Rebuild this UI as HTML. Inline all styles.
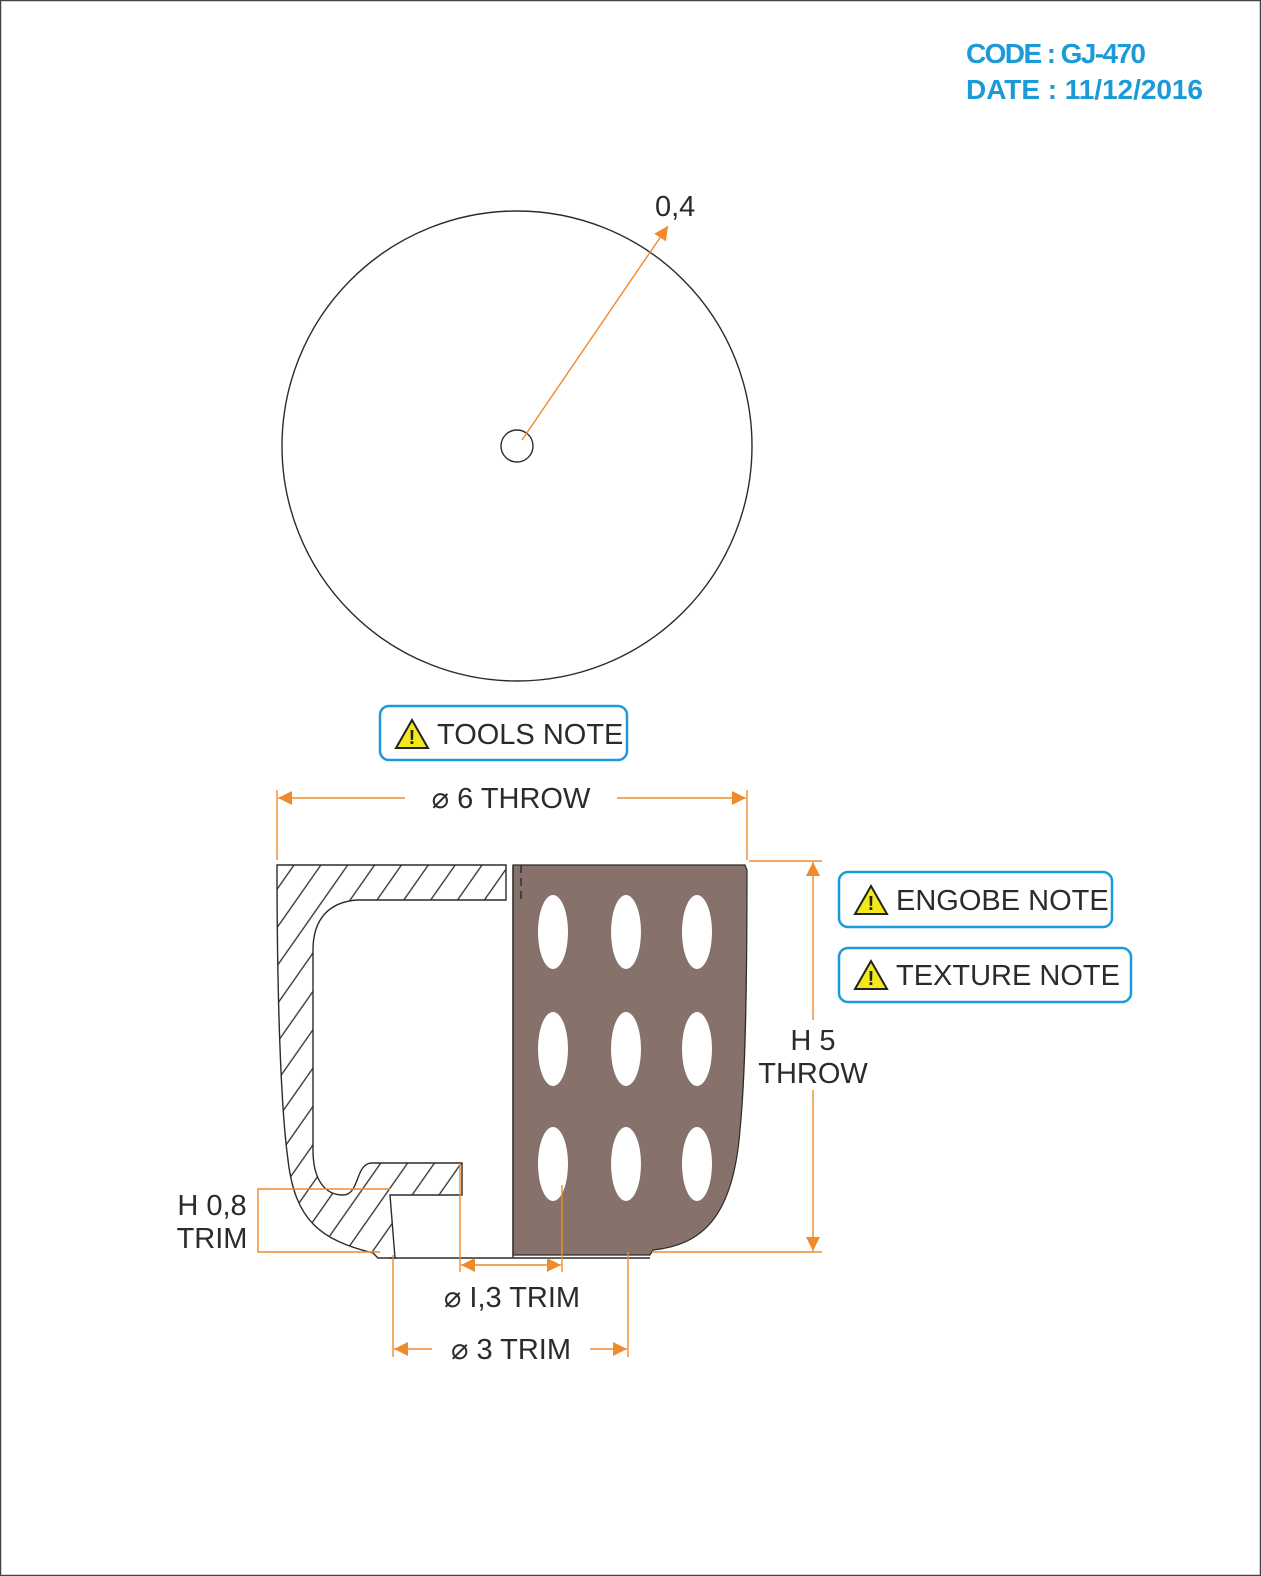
<!DOCTYPE html>
<html><head><meta charset="utf-8"><style>
html,body{margin:0;padding:0;background:#fff}
svg{display:block}
.t{font-family:"Liberation Sans",sans-serif;font-size:29px;fill:#2b2b2b}
.o{stroke:#f08a2c;stroke-width:1.4;fill:none}
.k{stroke:#2b2b2b;stroke-width:1.4;fill:none}
.nb{fill:#fff;stroke:#1a9ad6;stroke-width:2.5}
</style></head><body>
<svg id="svg" width="1261" height="1576" viewBox="0 0 1261 1576" xmlns="http://www.w3.org/2000/svg">
<defs>
<marker id="ar" viewBox="0 0 10 10" refX="10" refY="5" markerWidth="14" markerHeight="14" markerUnits="userSpaceOnUse" orient="auto-start-reverse"><path d="M0,0 L10,5 L0,10 z" fill="#f08a2c"/></marker>
<pattern id="hatch" patternUnits="userSpaceOnUse" width="22" height="22" patternTransform="rotate(35)"><line x1="11" y1="0" x2="11" y2="22" stroke="#2b2b2b" stroke-width="1.3"/></pattern>
</defs>
<rect x="0.5" y="0.5" width="1260" height="1575" fill="none" stroke="#444" stroke-width="1.5"/>
<g font-family="Liberation Sans, sans-serif" font-weight="bold" font-size="28" fill="#1a9ad6">
<text x="966" y="63" textLength="180">CODE : GJ-470</text>
<text x="966" y="99" textLength="237">DATE : 11/12/2016</text>
</g>
<circle cx="517" cy="446" r="235" class="k"/>
<circle cx="517" cy="446" r="16" class="k"/>
<line x1="522" y1="440" x2="668" y2="226" class="o" marker-end="url(#ar)"/>
<text class="t" x="655" y="216" font-size="27">0,4</text>
<g>
<rect class="nb" x="380" y="706" width="247" height="54" rx="9"/>
<path d="M396,748 L412,720 L428,748 Z" fill="#f2e81c" stroke="#222" stroke-width="2"/>
<text x="412" y="744" text-anchor="middle" font-family="Liberation Sans" font-weight="bold" font-size="20" fill="#222">!</text>
<text class="t" x="437" y="744">TOOLS NOTE</text></g>
<g>
<rect class="nb" x="839" y="872" width="273" height="55" rx="9"/>
<path d="M855,914 L871,886 L887,914 Z" fill="#f2e81c" stroke="#222" stroke-width="2"/>
<text x="871" y="910" text-anchor="middle" font-family="Liberation Sans" font-weight="bold" font-size="20" fill="#222">!</text>
<text class="t" x="896" y="910">ENGOBE NOTE</text></g>
<g>
<rect class="nb" x="839" y="948" width="292" height="54" rx="9"/>
<path d="M855,989 L871,961 L887,989 Z" fill="#f2e81c" stroke="#222" stroke-width="2"/>
<text x="871" y="985" text-anchor="middle" font-family="Liberation Sans" font-weight="bold" font-size="20" fill="#222">!</text>
<text class="t" x="896" y="985">TEXTURE NOTE</text></g>
<path d="M277,865 L506,865 L506,900 L357,900 C330,902 313,918 313,950 L313,1150 C313,1180 325,1195 343,1195 C360,1195 355,1163 372,1163 L462,1163 L462,1195 L390,1195 L395,1258 L378,1258 L373,1253 C320,1240 295,1220 288,1160 C281,1110 277,1000 277,865 Z" fill="url(#hatch)" stroke="#2b2b2b" stroke-width="1.4"/>
<path d="M513,865 L745,865 L747,870 C747,1000 745,1080 740,1130 C733,1220 700,1245 653,1250 L650,1255 L513,1255 Z" fill="#86726b" stroke="#2b2b2b" stroke-width="1.2"/>
<line class="k" x1="513" y1="865" x2="513" y2="1258"/>
<line class="k" x1="390" y1="1258" x2="650" y2="1258"/>
<line x1="521" y1="865" x2="521" y2="900" stroke="#2b2b2b" stroke-width="1.4" stroke-dasharray="8,5"/>
<g id="dots"></g>
<g>
<line class="o" x1="277" y1="790" x2="277" y2="860"/><line class="o" x1="747" y1="790" x2="747" y2="860"/>
<line class="o" x1="405" y1="798" x2="278" y2="798" marker-end="url(#ar)"/>
<line class="o" x1="617" y1="798" x2="746" y2="798" marker-end="url(#ar)"/>
<text class="t" x="511" y="808" text-anchor="middle">⌀ 6 THROW</text></g>
<g>
<line class="o" x1="749" y1="861" x2="822" y2="861"/><line class="o" x1="652" y1="1252" x2="822" y2="1252"/>
<line class="o" x1="813" y1="1020" x2="813" y2="862" marker-end="url(#ar)"/>
<line class="o" x1="813" y1="1090" x2="813" y2="1251" marker-end="url(#ar)"/>
<text class="t" x="813" y="1050" text-anchor="middle">H 5</text>
<text class="t" x="813" y="1083" text-anchor="middle">THROW</text></g>
<g>
<polyline class="o" points="390,1189 258,1189 258,1252 380,1252"/>
<text class="t" x="212" y="1215" text-anchor="middle">H 0,8</text>
<text class="t" x="212" y="1248" text-anchor="middle">TRIM</text></g>
<g>
<line class="o" x1="460" y1="1163" x2="460" y2="1272"/><line class="o" x1="562" y1="1185" x2="562" y2="1272"/>
<line class="o" x1="511" y1="1265" x2="461" y2="1265" marker-end="url(#ar)"/>
<line class="o" x1="511" y1="1265" x2="561" y2="1265" marker-end="url(#ar)"/>
<text class="t" x="512" y="1307" text-anchor="middle">⌀ I,3 TRIM</text></g>
<g>
<line class="o" x1="393" y1="1255" x2="393" y2="1357"/><line class="o" x1="628" y1="1252" x2="628" y2="1357"/>
<line class="o" x1="432" y1="1349" x2="394" y2="1349" marker-end="url(#ar)"/>
<line class="o" x1="590" y1="1349" x2="627" y2="1349" marker-end="url(#ar)"/>
<text class="t" x="511" y="1359" text-anchor="middle">⌀ 3 TRIM</text></g>
</svg>
<script>
const dotCols=[553,626,697];
const dotRows=[932,1049,1164];
const g=document.getElementById('dots');
dotRows.forEach(cy=>dotCols.forEach(cx=>{
 const e=document.createElementNS('http://www.w3.org/2000/svg','ellipse');
 
 
 e.setAttribute('cx',cx);e.setAttribute('cy',cy);e.setAttribute('rx',15);e.setAttribute('ry',37);
 e.setAttribute('fill','#fff');g.appendChild(e);
}));
</script>
</body></html>
